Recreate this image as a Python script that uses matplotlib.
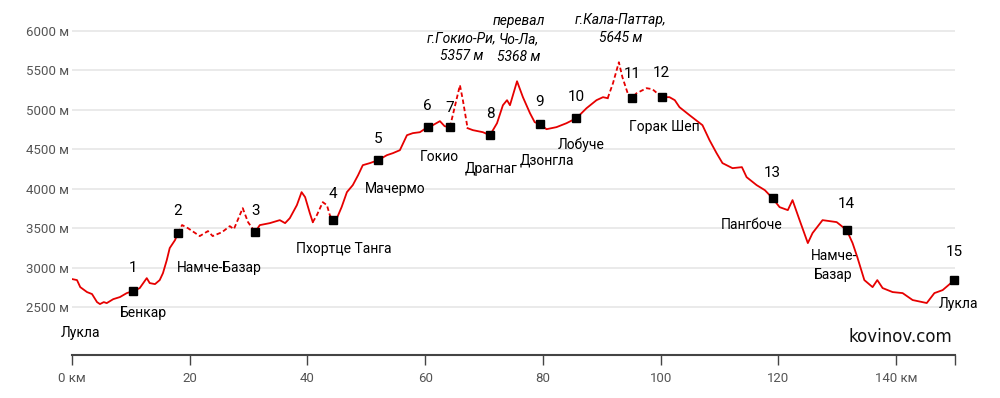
import numpy as np
import matplotlib.pyplot as plt

# Elevation profile of the trek (km, m)
track_km = [0, 0.85, 1.4, 2.55, 3.4, 4.25, 4.75, 5.4, 5.9, 7.0, 8.15, 9.3, 10.4,
            11.5, 12.7, 13.2, 14.1, 14.9, 15.45, 16.1, 16.6, 17.5, 18.0,
            18.7, 19.7, 21.7, 23.1, 23.9, 25.5, 26.8, 27.5, 29.0, 29.9, 31.1,
            31.9, 33.6, 35.3, 36.2, 37.0, 38.2, 39.0, 39.6, 40.4, 40.9,
            41.6, 42.6, 43.3, 43.8, 44.3,
            45.0, 45.8, 46.7, 47.7, 48.6, 49.4, 50.6, 52.0, 53.5, 54.5, 55.7,
            56.9, 57.9, 59.1, 60.4, 61.3, 62.5, 63.3, 64.2,
            65.0, 65.9, 66.4, 67.2,
            68.1, 69.8, 71.0, 72.2, 73.2, 73.9, 74.4, 75.6, 76.6, 77.8, 78.6,
            79.5, 80.6, 82.3, 84.0, 85.7, 87.4, 89.1, 90.2, 91.0,
            91.9, 92.9, 93.5, 94.4, 95.1, 95.9, 97.6, 98.6, 100.2,
            101.5, 102.4, 103.2, 104.9, 107.1, 108.3, 109.5, 110.5, 112.2,
            113.8, 114.6, 116.3, 117.7, 119.0, 120.2, 121.6, 122.4, 123.6,
            125.0, 125.8, 127.5, 129.9, 131.6, 132.6, 133.4, 134.6, 136.0,
            136.8, 137.7, 139.4, 141.1, 142.8, 145.2, 146.5, 147.9, 149.9]
track_elev = [2855, 2842, 2753, 2690, 2665, 2563, 2538, 2563, 2550, 2600, 2627, 2677, 2703,
              2740, 2867, 2804, 2791, 2842, 2930, 3095, 3248, 3349, 3438,
              3540, 3500, 3400, 3463, 3400, 3450, 3526, 3488, 3754, 3577, 3450,
              3539, 3564, 3602, 3564, 3627, 3792, 3957, 3894, 3691, 3577,
              3666, 3830, 3792, 3666, 3602,
              3627, 3767, 3957, 4046, 4172, 4299, 4325, 4362, 4426, 4451, 4489,
              4679, 4705, 4717, 4781, 4806, 4857, 4793, 4781,
              5034, 5313, 5123, 4768,
              4743, 4717, 4679, 4831, 5059, 5123, 5059, 5363, 5161, 4958, 4844,
              4819, 4755, 4781, 4831, 4895, 5021, 5123, 5161, 5148,
              5338, 5604, 5414, 5211, 5148, 5211, 5275, 5262, 5161,
              5161, 5123, 5034, 4933, 4806, 4616, 4451, 4325, 4261,
              4274, 4147, 4046, 3982, 3881, 3767, 3729, 3856, 3602,
              3311, 3438, 3602, 3577, 3476, 3311, 3134, 2842, 2753,
              2842, 2741, 2690, 2677, 2589, 2551, 2677, 2715, 2842]
# stretches drawn dashed (km from, km to)
dashed_ranges = [(18.0, 31.1), (40.9, 44.3), (64.2, 67.2), (91.0, 100.2)]

# Numbered waypoints
wp_num = ['1', '2', '3', '4', '5', '6', '7', '8', '9', '10', '11', '12', '13', '14', '15']
wp_km = [10.4, 18.0, 31.1, 44.3, 52.0, 60.4, 64.2, 71.0, 79.5, 85.7, 95.1, 100.2, 119.0, 131.6, 149.9]
wp_elev = [2703, 3438, 3450, 3602, 4362, 4781, 4781, 4679, 4819, 4895, 5148, 5161, 3881, 3476, 2842]
wp_name = ['Бенкар', 'Намче-Базар', 'Пхортце Танга', 'Мачермо', '', 'Гокио', '',
           'Драгнаг', 'Дзонгла', 'Лобуче', '', 'Горак Шеп', 'Пангбоче', 'Намче-\nБазар', 'Лукла']
# label offsets in pixels: number (dy up), name (dx, dy down)
num_dy = [23, 22, 21, 26, 21, 21, 19, 21, 22, 21, 24, 24, 25, 26, 28]
name_dx = [10, 41, 89, 62, 0, 12, 0, 1, 7, 5, 0, 2, -21, -13, 4]
name_dy = [22, 35, 17, -31, 0, 30, 0, 34, 36, 27, 0, 30, 27, 35, 24]

# Peaks
peak_km = [65.9, 75.6, 92.9]
peak_elev = [5313, 5363, 5604]
peak_text = ['г.Гокио-Ри,\n5357 м', 'перевал\nЧо-Ла,\n5368 м', 'г.Кала-Паттар,\n5645 м']
peak_dy = [38, 42, 33]

y_ticks = [2500, 3000, 3500, 4000, 4500, 5000, 5500, 6000]
x_ticks = [0, 20, 40, 60, 80, 100, 120, 140, 150]
x_labels = ['0 км', '20', '40', '60', '80', '100', '120', '140 км', '']

narrow = ['Roboto', 'DejaVu Sans']
red = '#e60000'
px = 72 / 100  # pixels -> points

fig = plt.figure(figsize=(10, 3.98), dpi=100)
ax = fig.add_axes([0.072, 0.108, 0.883, 0.892])
ax.set_xlim(0, 150)
ax.set_ylim(1892, 6393)

km = np.array(track_km, float)
el = np.array(track_elev, float)
mid = (km[:-1] + km[1:]) / 2
seg_dash = np.array([any(a <= m <= b for a, b in dashed_ranges) for m in mid])
in_dash = np.zeros(len(km), bool)
in_solid = np.zeros(len(km), bool)
in_dash[:-1] |= seg_dash
in_dash[1:] |= seg_dash
in_solid[:-1] |= ~seg_dash
in_solid[1:] |= ~seg_dash
ax.plot(km, np.where(in_solid, el, np.nan), color=red, lw=1.3, zorder=3)
ax.plot(km, np.where(in_dash, el, np.nan), color=red, lw=1.3, ls=(0, (2.5, 1.5)), zorder=3)

ax.plot(wp_km, wp_elev, 's', color='black', ms=6, zorder=4, clip_on=False)

for i in range(len(wp_num)):
    ax.annotate(wp_num[i], (wp_km[i], wp_elev[i]), xytext=(0, num_dy[i] * px),
                textcoords='offset points', ha='center', va='center',
                fontsize=11, family=narrow, annotation_clip=False)
    if wp_name[i]:
        ax.annotate(wp_name[i], (wp_km[i], wp_elev[i]),
                    xytext=(name_dx[i] * px, -name_dy[i] * px),
                    textcoords='offset points', ha='center', va='center',
                    fontsize=10, family=narrow, linespacing=1.45, annotation_clip=False)

# start label
ax.annotate('Лукла', (track_km[0], track_elev[0]), xytext=(8 * px, -54 * px),
            textcoords='offset points', ha='center', va='center',
            fontsize=10, family=narrow)

for k, e, t, d in zip(peak_km, peak_elev, peak_text, peak_dy):
    ax.annotate(t, (k, e), xytext=(2 * px, d * px), textcoords='offset points',
                ha='center', va='center', fontsize=10, style='italic',
                family=narrow, linespacing=1.35, annotation_clip=False)

ax.text(149.5, 2000, 'kovinov.com', ha='right', va='bottom', fontsize=12,
        family='DejaVu Sans', color='#111111')

ax.set_yticks(y_ticks)
ax.set_yticklabels([f'{v} м' for v in y_ticks], family=narrow, fontsize=9.5, color='#555555')
ax.set_xticks(x_ticks)
ax.set_xticklabels(x_labels, family=narrow, fontsize=9.5, color='#555555')
ax.tick_params(axis='y', length=0, pad=2)
ax.tick_params(axis='x', length=7, width=1, color='#444444', pad=5)
ax.yaxis.grid(True, color='#e6e6e6', lw=1.2)
ax.set_axisbelow(True)
for s in ['top', 'left', 'right']:
    ax.spines[s].set_visible(False)
ax.spines['bottom'].set_color('#444444')
ax.spines['bottom'].set_linewidth(1.5)

fig.savefig('out.png', dpi=100)
